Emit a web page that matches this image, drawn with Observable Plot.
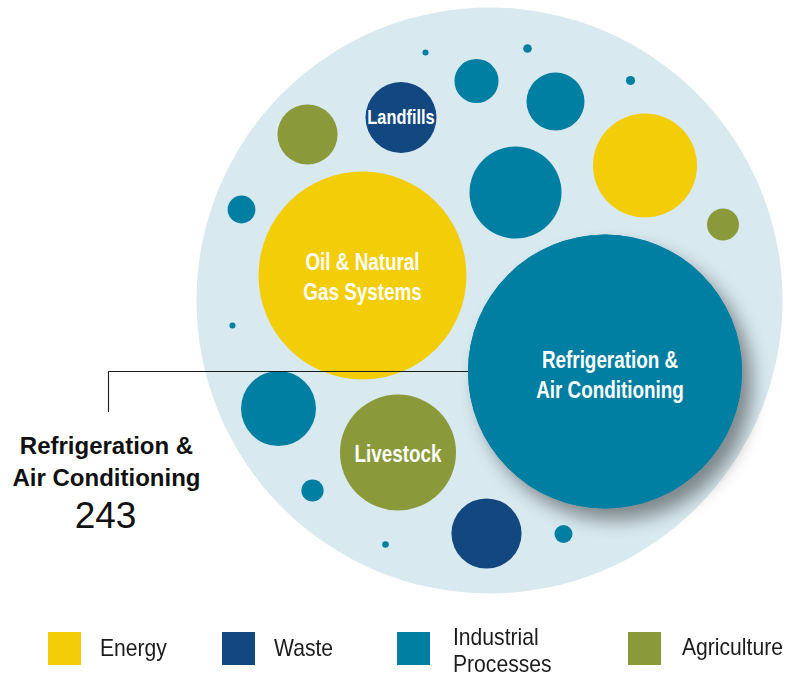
<!DOCTYPE html>
<html>
<head>
<meta charset="utf-8">
<script src="https://cdn.jsdelivr.net/npm/d3@7"></script>
<script src="https://cdn.jsdelivr.net/npm/@observablehq/plot@0.6"></script>
<style>
  body { margin: 0; background: #ffffff; }
  #chart { width: 807px; }
  .refshadow { filter: drop-shadow(10px 12px 9px rgba(0,0,0,0.42)); }
  .legend { position: relative; width: 807px; height: 67px; font-family: "Liberation Sans", Arial, sans-serif; font-size: 24px; color: #1c1c1c; }
  .legend .sw { position: absolute; top: 20px; width: 33px; height: 33px; }
  .legend .lb { position: absolute; line-height: 27px; white-space: nowrap; transform: scaleX(0.88); transform-origin: 0 0; }
</style>
</head>
<body>
<div id="chart"></div>
<script>
// ---- data ----
const sectors = ["Energy", "Waste", "Industrial Processes", "Agriculture"];
const sectorColors = ["#f2cd08", "#134780", "#007fa3", "#8a9a3a"];

const sources = [
  "Refrigeration & Air Conditioning", "Oil & Natural Gas Systems", "Landfills", "Livestock",
  "Agriculture source A", "Industrial source A", "Industrial source B", "Industrial source C",
  "Energy source A", "Agriculture source B", "Industrial source D", "Industrial source E",
  "Industrial source F", "Industrial source G", "Industrial source H", "Industrial source I",
  "Industrial source J", "Industrial source K", "Waste source A", "Industrial source L"
];
const sourceSector = [
  "Industrial Processes", "Energy", "Waste", "Agriculture",
  "Agriculture", "Industrial Processes", "Industrial Processes", "Industrial Processes",
  "Energy", "Agriculture", "Industrial Processes", "Industrial Processes",
  "Industrial Processes", "Industrial Processes", "Industrial Processes", "Industrial Processes",
  "Industrial Processes", "Industrial Processes", "Waste", "Industrial Processes"
];
// emissions (bubble area); only 243 is printed
const emissions = [
  243, 140, 16.3, 43.6,
  11.7, 6.3, 10.9, 27.4,
  35.0, 3.3, 2.5, 0.12,
  0.24, 0.27, 0.12, 0.14,
  18.2, 1.6, 15.9, 1.05
];
// packed-layout centres, relative to the centre of the enclosing circle
const layoutX = [
  115.5, -127, -88.5, -91.5,
  -182, -13, 66, 26,
  155.5, 233.5, -248, -64,
  38, 141, -257, -104,
  -211, -177, -3, 74
];
const layoutY = [
  71, -25, -183, 152,
  -166, -219.5, -199, -108,
  -135, -76, -91, -248,
  -252, -220, 25, 244,
  108, 190, 233, 233.5
];
const bubbleLabels = {
  "Refrigeration & Air Conditioning": "Refrigeration &\nAir Conditioning",
  "Oil & Natural Gas Systems": "Oil & Natural\nGas Systems",
  "Landfills": "Landfills",
  "Livestock": "Livestock"
};
const calloutSource = "Refrigeration & Air Conditioning";
const calloutText = "Refrigeration &\nAir Conditioning";

// ---- build ----
const bubbles = sources.map((s, i) => ({
  source: s, sector: sourceSector[i], value: emissions[i], x: layoutX[i], y: layoutY[i],
  label: bubbleLabels[s] || ""
}));
const main = bubbles.find(d => d.source === calloutSource);
const others = bubbles.filter(d => d !== main);

const W = 807, H = 612, CX = 489, CY = 300;
const rMax = 137;

const calloutX = -381;
const calloutPath = [
  {x: calloutX, y: 111},
  {x: calloutX, y: main.y},
  {x: main.x, y: main.y}
];
const labelFont = "'Liberation Sans', Arial, sans-serif";

const plot = Plot.plot({
  width: W, height: H, margin: 0,
  x: {domain: [-CX, W - CX], range: [0, W], axis: null},
  y: {domain: [-CY, H - CY], range: [0, H], axis: null},
  r: {type: "sqrt", domain: [0, d3.max(emissions)], range: [0, rMax]},
  color: {domain: sectors, range: sectorColors},
  style: {background: "#ffffff", overflow: "visible"},
  marks: [
    Plot.dot([{x: 0, y: 0}], {x: "x", y: "y", r: 293, fill: "#d8e9f0"}),
    Plot.dot([main], {x: "x", y: "y", r: "value", fill: "sector", className: "refshadow"}),
    Plot.dot(others, {x: "x", y: "y", r: "value", fill: "sector"}),
    Plot.line(calloutPath, {x: "x", y: "y", stroke: "#1a1a1a", strokeWidth: 1.1, curve: "linear"}),
    Plot.dot([main], {x: "x", y: "y", r: "value", fill: "sector"}),
    Plot.text(bubbles.filter(d => d.label && d.source !== "Landfills" && d !== main), {
      x: "x", y: "y", text: "label", fill: "white", fontSize: 23, fontWeight: "bold",
      fontFamily: labelFont, lineHeight: 1.3, className: "narrow"
    }),
    Plot.text([main], {
      x: "x", y: "y", text: "label", dx: 5, dy: 2, fill: "white", fontSize: 23, fontWeight: "bold",
      fontFamily: labelFont, lineHeight: 1.3, className: "narrow"
    }),
    Plot.text(bubbles.filter(d => d.source === "Landfills"), {
      x: "x", y: "y", text: "label", fill: "white", fontSize: 20, fontWeight: "bold",
      fontFamily: labelFont, className: "narrow"
    }),
    Plot.text([calloutText], {
      x: calloutX - 2, y: 159.3, text: d => d, fill: "#111", fontSize: 24, fontWeight: "bold",
      fontFamily: labelFont, lineHeight: 1.33
    }),
    Plot.text([main.value], {
      x: calloutX - 3, y: 215.5, text: d => String(d), fill: "#111", fontSize: 37, fontWeight: "normal",
      fontFamily: labelFont
    })
  ]
});

// condense the in-bubble labels (narrow gothic look); keep Plot's own x/y offsets
plot.querySelectorAll("g.narrow text").forEach(t => {
  const tr = t.getAttribute("transform") || "";
  t.setAttribute("transform", `${tr} scale(0.82,1)`);
});
document.getElementById("chart").appendChild(plot);

// ---- legend ----
const legend = document.createElement("div");
legend.className = "legend";
const swLeft = [48, 222, 397, 628];
const lbLeft = [100, 274, 453, 682];
const lbTop = [22, 22, 11, 21];
const legendText = ["Energy", "Waste", "Industrial\nProcesses", "Agriculture"];
sectors.forEach((s, i) => {
  const sw = document.createElement("div");
  sw.className = "sw";
  sw.style.left = swLeft[i] + "px";
  sw.style.background = sectorColors[i];
  legend.appendChild(sw);
  const lb = document.createElement("div");
  lb.className = "lb";
  lb.style.left = lbLeft[i] + "px";
  lb.style.top = lbTop[i] + "px";
  lb.innerHTML = legendText[i].split("\n").join("<br>");
  legend.appendChild(lb);
});
document.getElementById("chart").appendChild(legend);
</script>
</body>
</html>
